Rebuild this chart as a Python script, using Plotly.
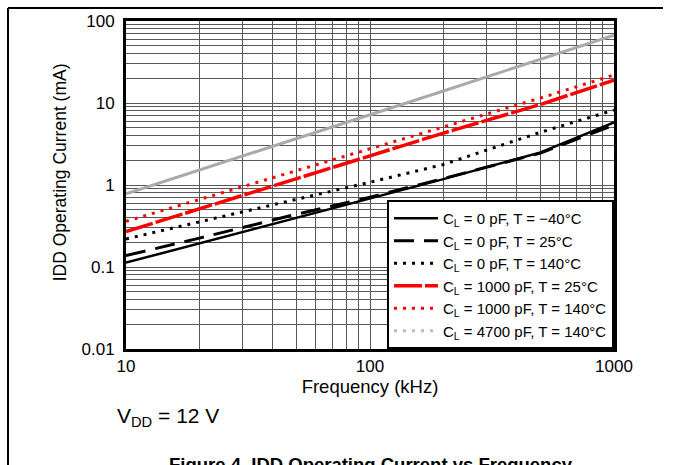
import plotly.graph_objects as go

# ---- data ----
freq_khz = [10, 20, 50, 100, 200, 500, 1000]
idd_0pf_m40 = [0.113, 0.194, 0.397, 0.68, 1.18, 2.5, 5.8]
idd_0pf_25 = [0.138, 0.225, 0.44, 0.71, 1.2, 2.45, 5.4]
idd_0pf_140 = [0.22, 0.355, 0.67, 1.08, 1.78, 4.4, 8.2]
idd_1000pf_25 = [0.27, 0.51, 1.19, 2.27, 4.3, 9.6, 19.0]
idd_1000pf_140 = [0.36, 0.666, 1.51, 2.8, 5.2, 11.5, 22.0]
idd_4700pf_140 = [0.78, 1.53, 3.69, 7.2, 14.0, 34.0, 67.0]

series_names = [
    "C<sub>L</sub> = 0 pF, T = \u221240\u00b0C",
    "C<sub>L</sub> = 0 pF, T = 25\u00b0C",
    "C<sub>L</sub> = 0 pF, T = 140\u00b0C",
    "C<sub>L</sub> = 1000 pF, T = 25\u00b0C",
    "C<sub>L</sub> = 1000 pF, T = 140\u00b0C",
    "C<sub>L</sub> = 4700 pF, T = 140\u00b0C",
]

x_tickvals = [10, 20, 30, 40, 50, 60, 70, 80, 90, 100,
              200, 300, 400, 500, 600, 700, 800, 900, 1000]
x_ticktext = ["10", "", "", "", "", "", "", "", "", "100",
              "", "", "", "", "", "", "", "", "1000"]
y_decades = [0.01, 0.1, 1, 10, 100]
y_decade_text = ["0.01", "0.1", "1", "10", "100"]

# build full y gridline set from decades
y_tickvals, y_ticktext = [], []
for i, d in enumerate(y_decades):
    y_tickvals.append(d)
    y_ticktext.append(y_decade_text[i])
    if i < len(y_decades) - 1:
        for m in range(2, 10):
            y_tickvals.append(round(d * m, 6))
            y_ticktext.append("")

FONT = "Liberation Sans, Arial, Helvetica, sans-serif"

fig = go.Figure()

styles = [
    dict(color="black", width=2.5, dash="solid"),
    dict(color="black", width=3, dash="20px,10px"),
    dict(color="black", width=3, dash="3px,6px"),
    dict(color="#ff0000", width=3.5, dash="28px,3px"),
    dict(color="#ff0000", width=3, dash="3px,6px"),
]
data = [idd_0pf_m40, idd_0pf_25, idd_0pf_140, idd_1000pf_25, idd_1000pf_140]
for name, ys, st in zip(series_names[:5], data, styles):
    fig.add_trace(go.Scatter(x=freq_khz, y=ys, mode="lines", name=name, line=st))

# gray line drawn solid in plot, dotted in legend
fig.add_trace(go.Scatter(x=freq_khz, y=idd_4700pf_140, mode="lines", showlegend=False,
                         line=dict(color="#aaaaaa", width=3)))
fig.add_trace(go.Scatter(x=[None], y=[None], mode="lines", name=series_names[5],
                         line=dict(color="#bbbbbb", width=3, dash="3px,6px")))

axis_common = dict(
    type="log",
    showline=True, linecolor="black", linewidth=3, mirror=True,
    showgrid=True, gridcolor="#585858", gridwidth=1,
    ticks="", zeroline=False,
    tickfont=dict(family=FONT, size=17, color="black"),
)

fig.update_xaxes(
    **axis_common, range=[1, 3], tickmode="array",
    tickvals=x_tickvals, ticktext=x_ticktext, ticklabelstandoff=0,
    title=dict(text="Frequency (kHz)", font=dict(family=FONT, size=18.5, color="black"), standoff=2),
)
fig.update_yaxes(
    **axis_common, range=[-2, 2], tickmode="array",
    tickvals=y_tickvals, ticktext=y_ticktext, ticklabelstandoff=5,
)

fig.update_layout(
    width=673, height=465,
    margin=dict(l=126, r=59, t=19, b=116),
    paper_bgcolor="white", plot_bgcolor="white",
    font=dict(family=FONT, color="black"),
    legend=dict(
        x=1, y=0, xanchor="right", yanchor="bottom",
        bgcolor="white", bordercolor="black", borderwidth=2,
        font=dict(family=FONT, size=15, color="black"),
        itemwidth=44, tracegroupgap=0,
    ),
    shapes=[
        dict(type="line", xref="paper", yref="paper",
             x0=-0.2418, x1=1.1004, y0=1.0394, y1=1.0394,
             line=dict(color="black", width=2)),
        dict(type="line", xref="paper", yref="paper",
             x0=-0.2418, x1=-0.2418, y0=1.0394, y1=-0.36,
             line=dict(color="black", width=2)),
    ],
    annotations=[
        dict(text="IDD Operating Current (mA)", xref="paper", yref="paper",
             x=-0.135, y=0.539, xanchor="center", yanchor="middle", textangle=-90,
             showarrow=False, font=dict(family=FONT, size=17.5, color="black")),
        dict(text="V<sub>DD</sub> = 12 V", xref="paper", yref="paper",
             x=-0.0225, y=-0.206, xanchor="left", yanchor="middle", showarrow=False,
             font=dict(family=FONT, size=21, color="black")),
        dict(text="<b>Figure 4. IDD Operating Current vs Frequency</b>", xref="paper", yref="paper",
             x=0.503, y=-0.314, xanchor="center", yanchor="top", showarrow=False,
             font=dict(family=FONT, size=18.5, color="black")),
    ],
)

fig.write_html("out.html", config={"displayModeBar": False},
               post_script="document.body.style.margin='0px';document.body.style.padding='0px';")
